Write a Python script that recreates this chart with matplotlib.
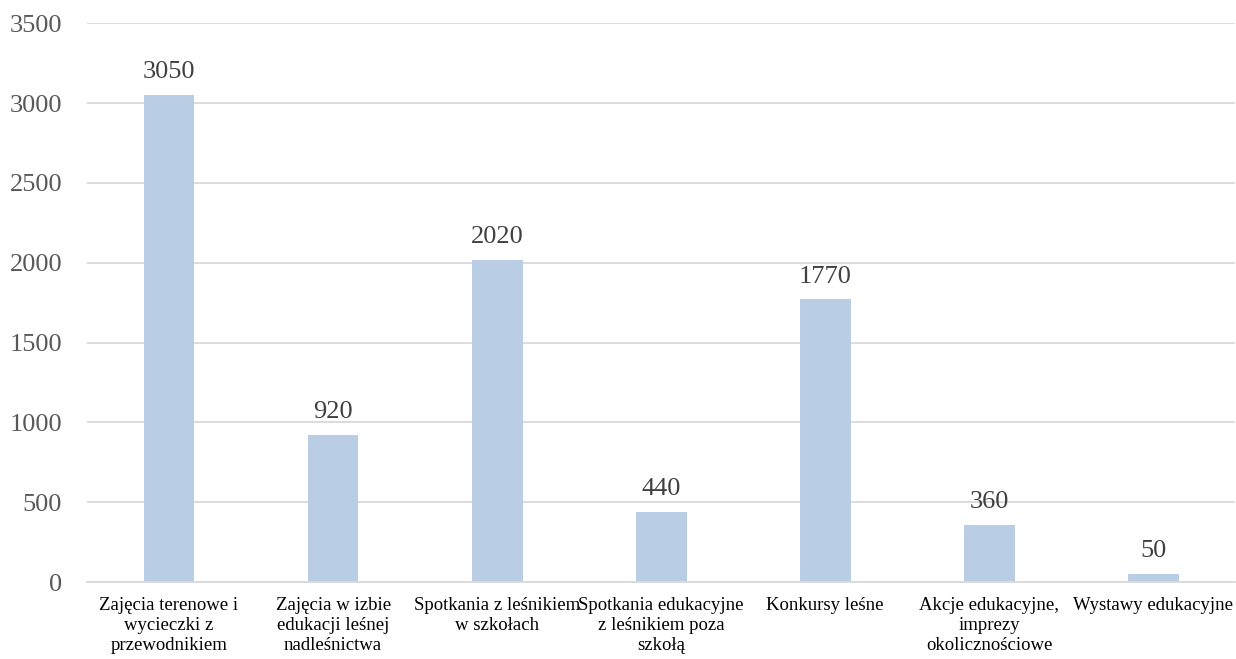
import matplotlib.pyplot as plt

categories = ["Zajęcia terenowe i\nwycieczki z\nprzewodnikiem",
              "Zajęcia w izbie\nedukacji leśnej\nnadleśnictwa",
              "Spotkania z leśnikiem\nw szkołach",
              "Spotkania edukacyjne\nz leśnikiem poza\nszkołą",
              "Konkursy leśne",
              "Akcje edukacyjne,\nimprezy\nokolicznościowe",
              "Wystawy edukacyjne"]
values = [3050, 920, 2020, 440, 1770, 360, 50]
yticks = [0, 500, 1000, 1500, 2000, 2500, 3000, 3500]

plt.rcParams['font.family'] = ['Liberation Serif', 'DejaVu Serif']

fig = plt.figure(figsize=(12.36, 6.59), dpi=100)
ax = fig.add_axes([0.0704, 0.1168, 0.9290, 0.848])

x = list(range(len(values)))
bars = ax.bar(x, values, width=0.31, color='#B9CDE5', zorder=2)
ax.set_xlim(-0.5, len(values) - 0.5)
ax.set_ylim(0, 3500)
ax.set_yticks(yticks)
ax.set_yticklabels([str(t) for t in yticks], fontsize=19, color='#595959')
ax.set_xticks(x)
ax.set_xticklabels(categories, fontsize=13.5, color='#000000', linespacing=1.2)
ax.tick_params(axis='both', length=0)
ax.tick_params(axis='x', pad=11)
ax.tick_params(axis='y', pad=18)
ax.grid(axis='y', color='#D9D9D9', linewidth=1.3, zorder=0)
for s in ['top', 'right', 'left']:
    ax.spines[s].set_visible(False)
ax.spines['bottom'].set_color('#D9D9D9')
ax.spines['bottom'].set_linewidth(1.3)

for xi, v in zip(x, values):
    ax.annotate(str(v), (xi, v), xytext=(0, 8.5), textcoords='offset points',
                ha='center', va='bottom', fontsize=19, color='#404040')

fig.savefig('out.png', dpi=100)
